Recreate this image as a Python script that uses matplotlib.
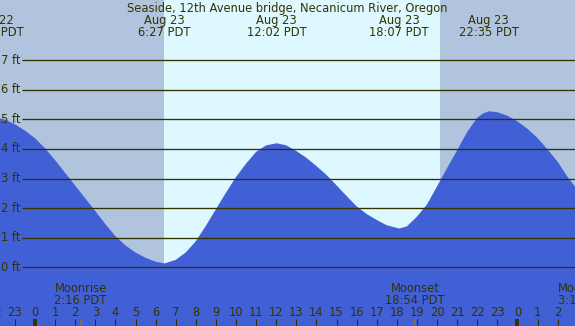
import matplotlib
matplotlib.use('Agg')
import matplotlib.pyplot as plt
import matplotlib.transforms as mtransforms

# ---- data ----
hours = [-2.07, -1.5, -1, -0.5, 0, 0.5, 1, 1.5, 2, 2.5, 3, 3.5, 4, 4.5, 5, 5.5, 6, 6.45,
         7, 7.5, 8, 8.5, 9, 9.5, 10, 10.5, 11, 11.5, 12.03, 12.5, 13, 13.5, 14, 14.5,
         15, 15.5, 16, 16.5, 17, 17.5, 18.12, 18.5, 19, 19.5, 20, 20.5, 21, 21.5, 22,
         22.3, 22.58, 23, 23.5, 24, 24.5, 25, 25.5, 26, 26.5, 27]
heights = [5.08, 4.99, 4.83, 4.62, 4.36, 4.02, 3.62, 3.19, 2.76, 2.33, 1.90, 1.46, 1.05,
           0.74, 0.50, 0.32, 0.19, 0.13,
           0.25, 0.50, 0.88, 1.40, 1.96, 2.52, 3.05, 3.50, 3.90, 4.12, 4.19, 4.12, 3.93,
           3.70, 3.42, 3.12, 2.77, 2.41, 2.06, 1.80, 1.60, 1.42, 1.31, 1.38, 1.71, 2.12,
           2.73, 3.35, 3.95, 4.57, 5.05, 5.20, 5.27, 5.24, 5.12, 4.93, 4.68, 4.37, 3.98,
           3.57, 3.05, 2.62]

tide_hours = [-2.07, 6.45, 12.03, 18.12, 22.58]
tide_dates = ["Aug 22", "Aug 23", "Aug 23", "Aug 23", "Aug 23"]
tide_times = ["21:56 PDT", "6:27 PDT", "12:02 PDT", "18:07 PDT", "22:35 PDT"]

sunrise = 6.42
sunset = 20.15

moon_hours = [2.27, 18.9, 27.3]
moon_events = ["Moonrise", "Moonset", "Moonrise"]
moon_times = ["2:16 PDT", "18:54 PDT", "3:18 PDT"]

ft_levels = [0, 1, 2, 3, 4, 5, 6, 7]
hour_ticks = list(range(-2, 28))
hour_labels = [str(h % 24) for h in hour_ticks]
midnights = [0, 24]

title = "Seaside, 12th Avenue bridge, Necanicum River, Oregon"

# ---- styling ----
W, H = 575, 326
NIGHT = '#b0c4de'
DAY = '#ddf8ff'
WATER = '#4160d6'
INK = '#333300'
FS = 8.3

fig = plt.figure(figsize=(W / 100, H / 100), dpi=100)
ax = fig.add_axes([0, 0, 1, 1])
px_per_hr = 20.1
x0 = 35.0
y0 = 267.3
px_per_ft = 29.6
ax.set_xlim(-x0 / px_per_hr, (W - x0) / px_per_hr)
ax.set_ylim(-(H - y0) / px_per_ft, y0 / px_per_ft)
ax.axis('off')

xmin, xmax = ax.get_xlim()
ax.axvspan(xmin, sunrise, color=NIGHT, lw=0, zorder=0)
ax.axvspan(sunrise, sunset, color=DAY, lw=0, zorder=0)
ax.axvspan(sunset, xmax, color=NIGHT, lw=0, zorder=0)

ybot = ax.get_ylim()[0]
ax.fill_between(hours, heights, ybot, color=WATER, lw=0, zorder=1)

# horizontal gridlines and labels
bt = mtransforms.blended_transform_factory(ax.transAxes, ax.transData)
for lv in ft_levels:
    ax.plot([22 / W, 1], [lv, lv], color=INK, lw=0.95, transform=bt, zorder=2,
            solid_capstyle='butt')
    ax.text(20.5 / W, lv, f"{lv} ft", transform=bt, ha='right', va='center',
            fontsize=FS, color=INK, zorder=3)

# top labels (y in axes fraction from pixels)
xt = mtransforms.blended_transform_factory(ax.transData, ax.transAxes)
yf = lambda p: 1 - p / H
ax.text(0.5, yf(12.3), title, transform=ax.transAxes, ha='center', va='baseline',
        fontsize=FS, color=INK)
for h, d, t in zip(tide_hours, tide_dates, tide_times):
    ax.text(h, yf(24.0), d, transform=xt, ha='center', va='baseline', fontsize=FS, color=INK)
    ax.text(h, yf(35.7), t, transform=xt, ha='center', va='baseline', fontsize=FS, color=INK)

# moon labels
for h, e, t in zip(moon_hours, moon_events, moon_times):
    ax.text(h, yf(291.7), e, transform=xt, ha='center', va='baseline', fontsize=FS, color=INK)
    ax.text(h, yf(303.7), t, transform=xt, ha='center', va='baseline', fontsize=FS, color=INK)
    ax.plot([h, h], [yf(319), 0], transform=xt, color='#7a7050', lw=1.4, zorder=3,
            solid_capstyle='butt')

# hour ticks and labels
for h, lab in zip(hour_ticks, hour_labels):
    ax.text(h, yf(316.0), lab, transform=xt, ha='center', va='baseline', fontsize=FS, color=INK)
    ax.plot([h, h], [yf(319), 0], transform=xt, color=INK, lw=0.8, zorder=3,
            solid_capstyle='butt')
for h in midnights:
    ax.plot([h, h], [yf(319), 0], transform=xt, color=INK, lw=2.8, zorder=3,
            solid_capstyle='butt')

fig.savefig('out.png', dpi=100)
